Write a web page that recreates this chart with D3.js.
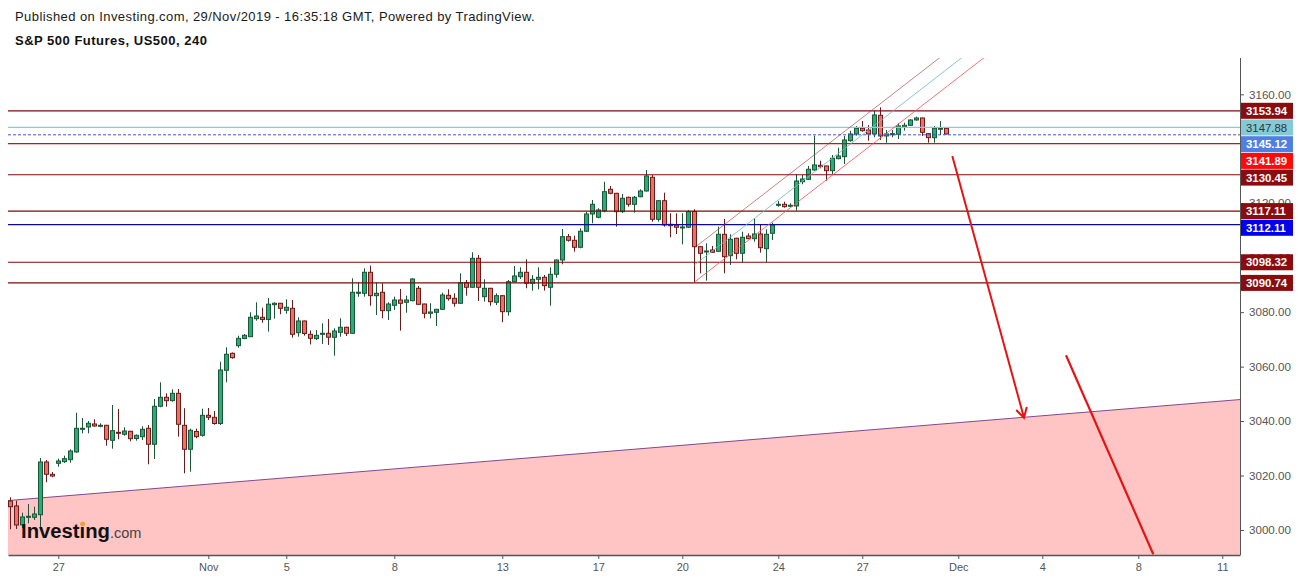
<!DOCTYPE html>
<html><head><meta charset="utf-8">
<script src="https://cdn.jsdelivr.net/npm/d3@7"></script>
<style>
html,body{margin:0;padding:0;background:#fff;}
svg{display:block;font-family:Arial,"Liberation Sans",sans-serif;}
</style></head><body>
<svg id="chart" width="1299" height="580"></svg>
<script>
// ---------------- DATA ----------------
const opens=[3010.65,3008.82,3001.84,3004.78,3004.67,3005.62,3024.98,3020.46,3024.50,3025.09,3025.82,3028.65,3037.09,3037.83,3038.93,3038.20,3038.45,3032.94,3035.88,3035.15,3036.25,3033.61,3034.27,3037.35,3031.48,3045.43,3048.74,3047.49,3050.20,3038.45,3029.64,3036.18,3034.78,3042.12,3041.39,3039.11,3058.65,3064.89,3067.69,3070.33,3070.99,3077.60,3078.11,3077.31,3082.74,3083.26,3080.69,3081.42,3072.46,3076.76,3071.87,3070.26,3071.87,3072.24,3070.77,3072.61,3074.44,3072.24,3086.93,3086.93,3094.64,3086.05,3087.30,3080.54,3082.52,3084.47,3083.62,3084.21,3088.76,3083.00,3079.58,3079.95,3081.05,3086.19,3085.09,3083.26,3090.82,3089.13,3099.78,3085.68,3088.76,3083.62,3086.05,3080.17,3091.19,3093.02,3094.64,3090.60,3092.07,3092.80,3089.13,3093.91,3099.16,3107.71,3106.39,3103.82,3109.70,3116.05,3114.84,3117.26,3125.12,3123.65,3116.90,3122.18,3119.61,3122.40,3124.50,3129.53,3114.10,3120.93,3112.27,3112.01,3111.06,3111.17,3116.97,3104.04,3102.24,3102.83,3102.35,3108.60,3100.74,3107.13,3101.62,3107.97,3106.98,3108.71,3103.31,3108.96,3119.36,3119.61,3119.02,3118.99,3127.91,3128.79,3132.21,3133.94,3133.68,3131.95,3136.36,3137.09,3142.97,3145.43,3147.52,3146.90,3145.43,3152.30,3144.70,3145.32,3145.32,3148.11,3148.62,3150.57,3151.31,3145.54,3144.07,3147.16,3147.52];
const highs=[3012.01,3010.76,3006.36,3009.55,3008.56,3026.44,3025.71,3021.30,3026.19,3027.29,3029.64,3043.08,3041.13,3040.03,3040.66,3039.19,3038.60,3045.91,3044.44,3037.72,3036.40,3035.07,3038.09,3038.56,3048.11,3054.24,3050.20,3051.67,3051.78,3044.70,3037.20,3037.20,3044.55,3044.81,3043.70,3061.81,3067.10,3065.20,3071.36,3071.98,3079.95,3083.62,3081.64,3085.20,3083.62,3083.40,3084.72,3084.47,3078.11,3076.90,3073.27,3073.45,3075.91,3077.49,3074.07,3077.75,3074.66,3092.44,3090.97,3096.11,3097.06,3090.82,3090.60,3083.62,3085.68,3088.51,3086.05,3092.44,3089.61,3083.10,3083.26,3081.20,3087.15,3088.40,3086.93,3094.27,3091.81,3101.99,3100.99,3092.07,3088.90,3086.93,3086.20,3091.81,3096.95,3096.48,3099.41,3093.65,3096.48,3093.65,3096.48,3099.30,3110.54,3108.71,3108.08,3110.80,3116.90,3121.19,3118.15,3127.91,3126.33,3123.80,3123.40,3122.40,3122.66,3125.12,3132.21,3130.37,3121.19,3123.87,3116.31,3116.31,3116.31,3117.52,3117.78,3104.20,3105.29,3104.30,3111.39,3114.21,3108.60,3107.30,3109.55,3108.96,3114.47,3112.27,3110.43,3112.86,3120.82,3120.57,3119.98,3130.74,3130.37,3133.68,3144.80,3135.62,3133.80,3137.72,3140.40,3144.70,3146.64,3148.37,3150.20,3148.73,3153.99,3155.20,3146.90,3146.90,3149.36,3149.58,3150.83,3151.78,3151.40,3145.60,3148.37,3150.20,3147.60];
const lows=[3000.26,3000.37,3000.74,3002.46,3003.68,3000.63,3017.52,3019.36,3023.25,3024.61,3024.72,3028.39,3035.51,3035.51,3037.94,3037.72,3030.96,3029.86,3033.31,3034.63,3032.58,3032.80,3033.05,3024.13,3026.08,3045.06,3045.28,3047.12,3034.27,3020.83,3021.41,3033.68,3034.27,3040.40,3038.67,3038.56,3054.24,3062.90,3066.95,3070.04,3070.90,3076.87,3076.13,3072.83,3077.60,3079.22,3079.44,3070.62,3070.99,3071.36,3068.13,3069.78,3068.31,3067.94,3064.01,3070.99,3071.25,3072.20,3085.68,3085.68,3082.37,3078.96,3077.75,3077.12,3080.80,3073.19,3079.80,3084.00,3082.63,3077.75,3077.75,3074.92,3080.80,3084.21,3082.01,3083.10,3086.05,3089.00,3084.10,3083.84,3082.37,3082.63,3076.28,3078.70,3090.82,3092.18,3088.76,3087.88,3088.40,3087.88,3082.37,3092.66,3097.58,3105.88,3102.21,3103.45,3109.44,3112.64,3114.47,3116.68,3123.29,3111.39,3116.42,3118.73,3116.53,3122.18,3124.24,3113.22,3113.22,3111.39,3107.49,3108.71,3104.92,3110.91,3090.74,3094.27,3091.56,3101.73,3102.10,3094.27,3097.32,3099.41,3098.17,3106.76,3105.88,3101.84,3098.42,3106.50,3118.73,3118.36,3118.62,3117.26,3126.96,3128.54,3131.95,3132.83,3128.28,3130.74,3136.14,3134.41,3142.60,3144.81,3146.27,3142.97,3144.22,3143.23,3142.23,3144.22,3143.59,3146.64,3148.37,3150.31,3144.70,3142.23,3142.23,3145.06,3145.30];
const closes=[3008.56,3001.84,3004.78,3005.03,3005.88,3024.98,3020.46,3019.83,3025.34,3026.19,3029.01,3037.35,3037.35,3039.19,3038.20,3038.45,3033.31,3036.47,3035.51,3036.36,3033.53,3034.78,3036.98,3031.48,3045.43,3048.74,3047.49,3050.20,3038.82,3029.64,3036.62,3034.27,3042.12,3041.39,3039.11,3058.76,3064.53,3063.28,3070.40,3071.50,3078.11,3078.59,3077.31,3082.93,3083.26,3081.42,3081.79,3071.87,3076.76,3072.17,3070.40,3071.50,3072.24,3070.81,3073.08,3074.44,3072.24,3087.30,3087.30,3094.64,3086.05,3086.93,3080.54,3083.00,3084.47,3083.26,3084.47,3092.18,3082.89,3079.58,3080.06,3081.05,3086.30,3084.94,3083.26,3090.82,3089.13,3099.78,3089.13,3088.76,3083.84,3086.05,3080.17,3091.19,3093.28,3094.64,3090.60,3092.07,3092.80,3089.72,3093.91,3099.16,3107.71,3106.39,3103.82,3109.70,3116.05,3119.61,3117.52,3124.24,3123.65,3116.90,3121.82,3119.61,3122.18,3124.50,3130.01,3114.10,3120.93,3112.01,3111.75,3111.17,3111.28,3116.90,3104.04,3101.62,3102.46,3101.99,3108.60,3100.37,3106.76,3101.62,3107.49,3106.98,3108.71,3103.67,3108.60,3112.01,3119.61,3118.73,3119.24,3128.17,3128.90,3132.47,3134.05,3133.42,3131.95,3136.51,3137.35,3143.23,3145.43,3147.52,3146.64,3145.43,3152.41,3144.70,3145.43,3145.54,3148.37,3148.62,3150.57,3151.31,3146.05,3144.07,3147.52,3147.52,3145.43];

const xTickIndex=[8,33,46,64,82,98,112,128,142,158,172,188,202];
const xTickLabels=["27","Nov","5","8","13","17","20","24","27","Dec","4","8","11"];
const yTickValues=[3000,3020,3040,3060,3080,3100,3120,3160];

const levelValues=[3153.94,3147.88,3145.12,3141.89,3130.45,3117.11,3112.11,3098.32,3090.74];
const levelKinds=["dark","cyan","dash","red","dark","dark","blue","dark","dark"];

const supportLine=[[-0.4,3010.8],[204.95,3047.9]];
const channelUpper=[[114,3103.6],[165,3190.7]];
const channelMid=[[114,3097.3],[165,3184.4]];
const channelLower=[[114,3091.0],[165,3178.1]];
const arrowDown=[[157.0,3137.35],[168.95,3041.24]];
const arrowLong=[[175.95,3064.16],[190.5,2991.08]];

const headerLine1="Published on Investing.com, 29/Nov/2019 - 16:35:18 GMT, Powered by TradingView.";
const headerLine2="S&P 500 Futures, US500, 240";

// ---------------- STYLES / LAYOUT ----------------
const plot={left:8,right:1240,top:58,bottom:555};
const kindStyle={
  dark:{line:"#7d0a0a",box:"#8b0c0c",text:"#fff",width:1.2,dash:null,bold:true},
  cyan:{line:"#8ccbd3",box:"#86c9d6",text:"#333",width:1.2,dash:null,bold:false},
  dash:{line:"#3a5cc8",box:"#4f7fe0",text:"#fff",width:1,dash:"3,2",bold:true},
  red:{line:"#c81616",box:"#ff0a0a",text:"#fff",width:1.1,dash:null,bold:true},
  blue:{line:"#0a0a9a",box:"#0000f0",text:"#fff",width:1.2,dash:null,bold:true}
};
const upFill="#22b078", upLine="#1e5538", downFill="#ef6f60", downLine="#6a1c1c";

const svg=d3.select("#chart");
svg.append("rect").attr("width",1299).attr("height",580).attr("fill","#fff");

const x=d3.scaleLinear().domain([-0.383,204.95]).range([plot.left,plot.right]);
const y=d3.scaleLinear().domain([3000,3160]).range([530,94.3]);

svg.append("defs").append("clipPath").attr("id","plotclip")
  .append("rect").attr("x",plot.left).attr("y",plot.top)
  .attr("width",plot.right-plot.left).attr("height",plot.bottom-plot.top);

const g=svg.append("g").attr("clip-path","url(#plotclip)");

// pink support zone
const area=d3.area().x(d=>x(d[0])).y0(plot.bottom).y1(d=>y(d[1]));
g.append("path").datum(supportLine).attr("d",area).attr("fill","#ffc4c4");
g.append("path").datum(supportLine).attr("d",d3.line().x(d=>x(d[0])).y(d=>y(d[1])))
  .attr("fill","none").attr("stroke","#7e4a8e").attr("stroke-width",1);

// candles
const candles=opens.map((o,i)=>({i,o,h:highs[i],l:lows[i],c:closes[i]}));
const cg=g.append("g");
candles.forEach(d=>{
  const up=d.c>=d.o;
  const cx=Math.round(x(d.i));
  cg.append("line").attr("x1",cx+0.5).attr("x2",cx+0.5)
    .attr("y1",y(d.h)).attr("y2",y(d.l))
    .attr("stroke",up?upLine:downLine).attr("stroke-width",1);
  const top=y(Math.max(d.o,d.c)), bot=y(Math.min(d.o,d.c));
  const h=Math.max(1,bot-top);
  cg.append("rect").attr("x",cx-1.5).attr("width",4)
    .attr("y",top).attr("height",h)
    .attr("fill",up?upFill:downFill)
    .attr("stroke",up?upLine:downLine).attr("stroke-width",1);
});

// horizontal levels
levelValues.forEach((v,k)=>{
  const s=kindStyle[levelKinds[k]];
  const l=g.append("line").attr("x1",plot.left).attr("x2",plot.right)
    .attr("y1",y(v)).attr("y2",y(v))
    .attr("stroke",s.line).attr("stroke-width",s.width);
  if(s.dash) l.attr("stroke-dasharray",s.dash);
});

// channel
const lineGen=d3.line().x(d=>x(d[0])).y(d=>y(d[1]));
[[channelUpper,"rgba(160,50,50,0.6)"],[channelMid,"rgba(110,190,185,0.85)"],[channelLower,"rgba(240,90,90,0.85)"]]
  .forEach(([pts,col])=>{
    g.append("path").datum(pts).attr("d",lineGen).attr("fill","none")
      .attr("stroke",col).attr("stroke-width",1);
  });

// arrows
g.append("path").datum(arrowDown).attr("d",lineGen).attr("fill","none")
  .attr("stroke","#e41414").attr("stroke-width",2);
(function(){
  const p1=[x(arrowDown[0][0]),y(arrowDown[0][1])], p2=[x(arrowDown[1][0]),y(arrowDown[1][1])];
  const a=Math.atan2(p2[1]-p1[1],p2[0]-p1[0]);
  const L=11, sp=Math.PI/6;
  const w1=[p2[0]-L*Math.cos(a-sp),p2[1]-L*Math.sin(a-sp)];
  const w2=[p2[0]-L*Math.cos(a+sp),p2[1]-L*Math.sin(a+sp)];
  g.append("path").attr("d",`M${w1}L${p2}L${w2}`).attr("fill","none")
    .attr("stroke","#e41414").attr("stroke-width",2);
})();
g.append("path").datum(arrowLong).attr("d",lineGen).attr("fill","none")
  .attr("stroke","#e41414").attr("stroke-width",2.2);

// logo
const logo=svg.append("g");
logo.append("text").attr("x",21).attr("y",538).attr("font-size",20).attr("font-weight","bold")
  .attr("fill","#111").attr("textLength",89).attr("lengthAdjust","spacingAndGlyphs").text("Investing");
logo.append("circle").attr("cx",82.7).attr("cy",524).attr("r",2.4).attr("fill","#f0a030");
logo.append("text").attr("x",110).attr("y",538).attr("font-size",14.5).attr("fill","#444").text(".com");

// axes
const yAxis=d3.axisRight(y).tickValues(yTickValues).tickSize(4).tickPadding(5).tickFormat(d3.format(".2f"));
const ya=svg.append("g").attr("transform",`translate(${plot.right},0)`).call(yAxis);
ya.select(".domain").remove();
ya.selectAll("line").attr("stroke","#555");
ya.selectAll("text").attr("font-size",11.6).attr("fill","#555").attr("font-family","Arial,'Liberation Sans',sans-serif");
svg.append("line").attr("x1",plot.right+0.5).attr("x2",plot.right+0.5).attr("y1",plot.top).attr("y2",plot.bottom)
  .attr("stroke","#555").attr("stroke-width",1);

const xAxis=d3.axisBottom(x).tickValues(xTickIndex).tickFormat((d,i)=>xTickLabels[i])
  .tickSizeInner(4).tickSizeOuter(0).tickPadding(4);
const xa=svg.append("g").attr("transform",`translate(0,${plot.bottom})`).call(xAxis);
xa.select(".domain").attr("stroke","#555").attr("stroke-width",1.5);
xa.selectAll("line").attr("stroke","#555");
xa.selectAll("text").attr("font-size",11).attr("fill","#555").attr("font-family","Arial,'Liberation Sans',sans-serif");

// price labels (stacked to avoid overlap)
const order=levelValues.map((v,k)=>({v,k,py:y(v)})).sort((a,b)=>a.py-b.py);
let prev=-1e9;
order.forEach(o=>{o.ly=Math.max(o.py,prev+16.7);prev=o.ly;});
order.forEach(o=>{
  const s=kindStyle[levelKinds[o.k]];
  svg.append("rect").attr("x",plot.right+1).attr("y",o.ly-8).attr("width",52).attr("height",16).attr("fill",s.box);
  svg.append("text").attr("x",plot.right+6).attr("y",o.ly).attr("dominant-baseline","central")
    .attr("font-size",11.4).attr("font-weight",s.bold?"bold":"normal").attr("fill",s.text).text(o.v.toFixed(2));
});

// header
svg.append("text").attr("x",15).attr("y",21).attr("font-size",13).attr("letter-spacing",0.42)
  .attr("fill","#1a1a1a").text(headerLine1);
svg.append("text").attr("x",15).attr("y",45).attr("font-size",13).attr("font-weight","bold")
  .attr("letter-spacing",0.5).attr("fill","#111").text(headerLine2);
</script>
</body></html>
